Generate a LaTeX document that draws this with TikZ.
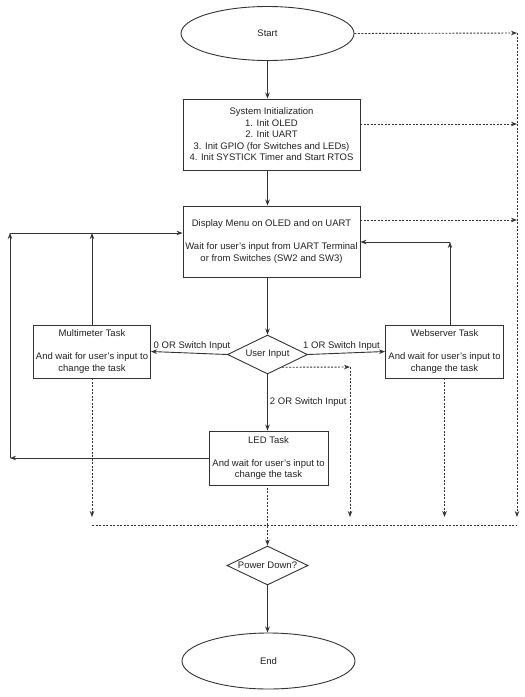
\documentclass[tikz,border=0pt]{standalone}
\usepackage{fontspec}
\setmainfont{Liberation Sans}
\usetikzlibrary{shapes.geometric,arrows.meta,calc}
\definecolor{ln}{HTML}{333333}
\definecolor{tx}{HTML}{222222}
\begin{document}
\begin{tikzpicture}[x=1pt,y=-1pt,
  base/.style={draw=ln, line width=0.9pt, align=center, text=tx, inner sep=0pt,
    font=\fontsize{9.5}{11.5}\selectfont},
  term/.style={base, ellipse, minimum width=173pt, minimum height=54pt},
  box/.style={base, rectangle},
  dec/.style={base, diamond, shape aspect=2},
  arr/.style={draw=ln, line width=0.9pt, -{Stealth[length=6pt,width=4.5pt]}},
  darr/.style={arr, dash pattern=on 2pt off 1.5pt},
  dln/.style={draw=ln, line width=0.9pt, dash pattern=on 2pt off 1.5pt},
  lbl/.style={text=tx, inner sep=2pt, font=\fontsize{9.5}{11.5}\selectfont}]
\useasboundingbox[fill=white] (0,0) rectangle (525,697);

\node[term] (start) at (267.5,33.5) {Start};
\node[box, minimum width=177pt, minimum height=71pt] (init) at (271.5,134.5)
  {System Initialization\\1. Init OLED\\2. Init UART\\3. Init GPIO (for Switches and LEDs)\\4. Init SYSTICK Timer and Start RTOS};
\node[box, minimum width=177pt, minimum height=71pt] (disp) at (271.5,241.5)
  {Display Menu on OLED and on UART\\[11.5pt]Wait for user's input from UART Terminal\\or from Switches (SW2 and SW3)};
\node[dec, minimum width=80pt, minimum height=39pt] (ui) at (267.5,354.5) {User Input};
\node[box, minimum width=117pt, minimum height=53pt] (mm) at (92,351.5)
  {Multimeter Task\\[11.5pt]And wait for user's input to\\change the task};
\node[box, minimum width=118pt, minimum height=53pt] (ws) at (444.5,351.5)
  {Webserver Task\\[11.5pt]And wait for user's input to\\change the task};
\node[box, minimum width=119pt, minimum height=54pt] (led) at (268.5,458)
  {LED Task\\[11.5pt]And wait for user's input to\\change the task};
\node[dec, minimum width=81pt, minimum height=39pt] (pd) at (267.5,565.5) {Power Down?};
\node[term, minimum height=56pt] (end) at (268.5,661) {End};

\coordinate (lt) at (10,233);
\coordinate (wc) at (450,242);
\coordinate (rt) at (517,33);
\coordinate (rb) at (517,525);
\coordinate (hl) at (92,525);
\coordinate (uc) at (350,367);

% main flow
\draw[arr] (start.south) -- (start.south |- init.north);
\draw[arr] (start.south |- init.south) -- (start.south |- disp.north);
\draw[arr] (ui.north |- disp.south) -- (ui.north);
\draw[arr] (ui.west) -- node[lbl, midway, above, xshift=3pt] {0 OR Switch Input} (mm.east);
\draw[arr] (ui.east) -- node[lbl, midway, above, xshift=-5pt] {1 OR Switch Input} (ws.east -| ws.west);
\draw[arr] (ui.south) -- node[lbl, midway, right] {2 OR Switch Input} (ui.south |- led.north);
\draw[arr] (pd.south) -- (pd.south |- end.north);

% returns to menu
\draw[arr] (led.west) -- (led.west -| lt);
\draw[arr] (led.west -| lt) -- (lt);
\draw[arr] (lt) -- (lt -| disp.west);
\draw[arr] (mm.north) -- (mm.north |- lt);
\draw[arr] (ws.north -| wc) -- (wc);
\draw[arr] (wc) -- (wc -| disp.east);

% dotted power-down paths
\draw[darr] (start.east) -- (rt);
\draw[darr] ([yshift=10.5pt]init.east) -- ([yshift=10.5pt]init.east -| rt);
\draw[darr] ([yshift=21.5pt]disp.east) -- ([yshift=21.5pt]disp.east -| rt);
\draw[darr] (rt) -- ([yshift=8pt]rb);
\draw[darr] ($(ui.south)!0.36!(ui.east)$) -- (uc);
\draw[darr] (uc) -- ([yshift=8pt]uc |- rb);
\draw[darr] (mm.south) -- ([yshift=8pt]hl);
\draw[darr] (ws.south) -- ([yshift=8pt]ws.south |- rb);
\draw[dln] (hl) -- (rb);
\draw[darr] (led.south) -- (led.south -| pd.north) -- (pd.north);
\end{tikzpicture}
\end{document}
